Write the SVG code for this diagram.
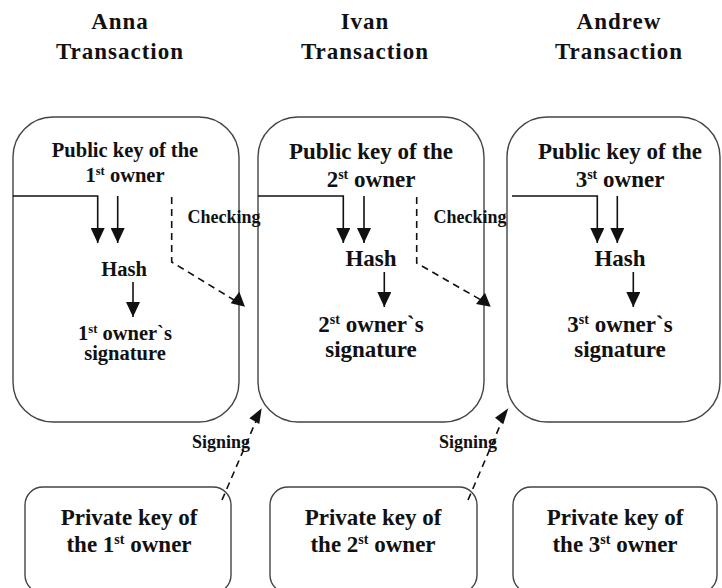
<svg xmlns="http://www.w3.org/2000/svg" width="722" height="588" viewBox="0 0 722 588">
  <style>
    text { font-family: "Liberation Serif", "Times New Roman", serif; font-weight: bold; fill: #111; text-anchor: middle; }
    .title { font-size: 23px; letter-spacing: 1px; }
    .box { fill: #fff; stroke: #444; stroke-width: 1.4; }
    .edge { fill: none; stroke: #111; stroke-width: 1.6; }
    .dash { fill: none; stroke: #111; stroke-width: 1.6; stroke-dasharray: 7 5; }
    .head { fill: #111; }
    .t1 { font-size: 20.5px; }
    .t2 { font-size: 23px; }
    .lbl { font-size: 18px; }
  </style>
  <defs>
    <marker id="arrow" markerUnits="userSpaceOnUse" markerWidth="15" markerHeight="14" viewBox="0 0 15 14" refX="15" refY="7" orient="auto">
      <path d="M0,0 L15,7 L0,14 z" fill="#111"/>
    </marker>
  </defs>

  <rect width="722" height="588" fill="#fff"/>

  <!-- column titles -->
  <g id="title-anna">
    <text class="title" x="120" y="29">Anna</text>
    <text class="title" x="120" y="59">Transaction</text>
  </g>
  <g id="title-ivan">
    <text class="title" x="365" y="29">Ivan</text>
    <text class="title" x="365" y="59">Transaction</text>
  </g>
  <g id="title-andrew">
    <text class="title" x="619" y="29">Andrew</text>
    <text class="title" x="619" y="59">Transaction</text>
  </g>

  <!-- transaction boxes -->
  <g id="tx-anna">
    <rect class="box" x="13" y="117" width="226" height="305" rx="40" ry="40"/>
    <text class="t1" x="125" y="157">Public key of the</text>
    <text class="t1" x="125" y="182">1<tspan font-size="12.5" dy="-7">st</tspan><tspan dy="7"> owner</tspan></text>
    <text class="t1" x="124" y="276">Hash</text>
    <text class="t1" x="125" y="340">1<tspan font-size="12.5" dy="-7">st</tspan><tspan dy="7"> owner`s</tspan></text>
    <text class="t1" x="125" y="360">signature</text>
  </g>
  <g id="tx-ivan">
    <rect class="box" x="258" y="117" width="226" height="305" rx="40" ry="40"/>
    <text class="t2" x="371" y="159">Public key of the</text>
    <text class="t2" x="371" y="187">2<tspan font-size="14" dy="-8">st</tspan><tspan dy="8"> owner</tspan></text>
    <text class="t2" x="371" y="266">Hash</text>
    <text class="t2" x="371" y="332">2<tspan font-size="14" dy="-8">st</tspan><tspan dy="8"> owner`s</tspan></text>
    <text class="t2" x="371" y="357">signature</text>
  </g>
  <g id="tx-andrew">
    <rect class="box" x="507" y="117" width="213" height="305" rx="40" ry="40"/>
    <text class="t2" x="620" y="159">Public key of the</text>
    <text class="t2" x="620" y="187">3<tspan font-size="14" dy="-8">st</tspan><tspan dy="8"> owner</tspan></text>
    <text class="t2" x="620" y="266">Hash</text>
    <text class="t2" x="620" y="332">3<tspan font-size="14" dy="-8">st</tspan><tspan dy="8"> owner`s</tspan></text>
    <text class="t2" x="620" y="357">signature</text>
  </g>

  <!-- private key boxes -->
  <g id="key-1">
    <rect class="box" x="25" y="487" width="206" height="106" rx="18" ry="18"/>
    <text class="t2" x="129" y="525">Private key of</text>
    <text class="t2" x="129" y="552">the 1<tspan font-size="14" dy="-8">st</tspan><tspan dy="8"> owner</tspan></text>
  </g>
  <g id="key-2">
    <rect class="box" x="270" y="487" width="207" height="106" rx="18" ry="18"/>
    <text class="t2" x="373" y="525">Private key of</text>
    <text class="t2" x="373" y="552">the 2<tspan font-size="14" dy="-8">st</tspan><tspan dy="8"> owner</tspan></text>
  </g>
  <g id="key-3">
    <rect class="box" x="513" y="487" width="204" height="106" rx="18" ry="18"/>
    <text class="t2" x="615" y="525">Private key of</text>
    <text class="t2" x="615" y="552">the 3<tspan font-size="14" dy="-8">st</tspan><tspan dy="8"> owner</tspan></text>
  </g>

  <!-- connectors -->
  <g id="connectors">
    <!-- Anna: inputs to hash, hash to signature -->
    <path class="edge" d="M13,196 H97.7 V243" marker-end="url(#arrow)"/>
    <path class="edge" d="M117.7,196 V243" marker-end="url(#arrow)"/>
    <path class="edge" d="M133,282 V317" marker-end="url(#arrow)"/>
    <!-- Ivan -->
    <path class="edge" d="M258,196 H343.3 V243" marker-end="url(#arrow)"/>
    <path class="edge" d="M364,196 V243" marker-end="url(#arrow)"/>
    <path class="edge" d="M384.3,272 V307" marker-end="url(#arrow)"/>
    <!-- Andrew -->
    <path class="edge" d="M512,196 H597.3 V243" marker-end="url(#arrow)"/>
    <path class="edge" d="M617.3,196 V243" marker-end="url(#arrow)"/>
    <path class="edge" d="M633.3,272 V307" marker-end="url(#arrow)"/>

    <!-- checking links -->
    <path class="dash" d="M171.7,197 V262 L234,300"/>
    <polygon class="head" points="239.3,291.7 230.7,303.3 245,306.7"/>
    <text class="lbl" x="224" y="223">Checking</text>
    <path class="dash" d="M416.7,197 V263 L481,300"/>
    <polygon class="head" points="485,292.7 476,304 490.7,306.7"/>
    <text class="lbl" x="470" y="223">Checking</text>

    <!-- signing links -->
    <path class="dash" d="M222,500 L256,421"/>
    <polygon class="head" points="261.7,408.3 249.3,418.3 259.3,424"/>
    <text class="lbl" x="221" y="448">Signing</text>
    <path class="dash" d="M468,500 L502,421"/>
    <polygon class="head" points="508.3,408.3 495,417.7 503.3,424.3"/>
    <text class="lbl" x="468" y="448">Signing</text>
  </g>
</svg>
